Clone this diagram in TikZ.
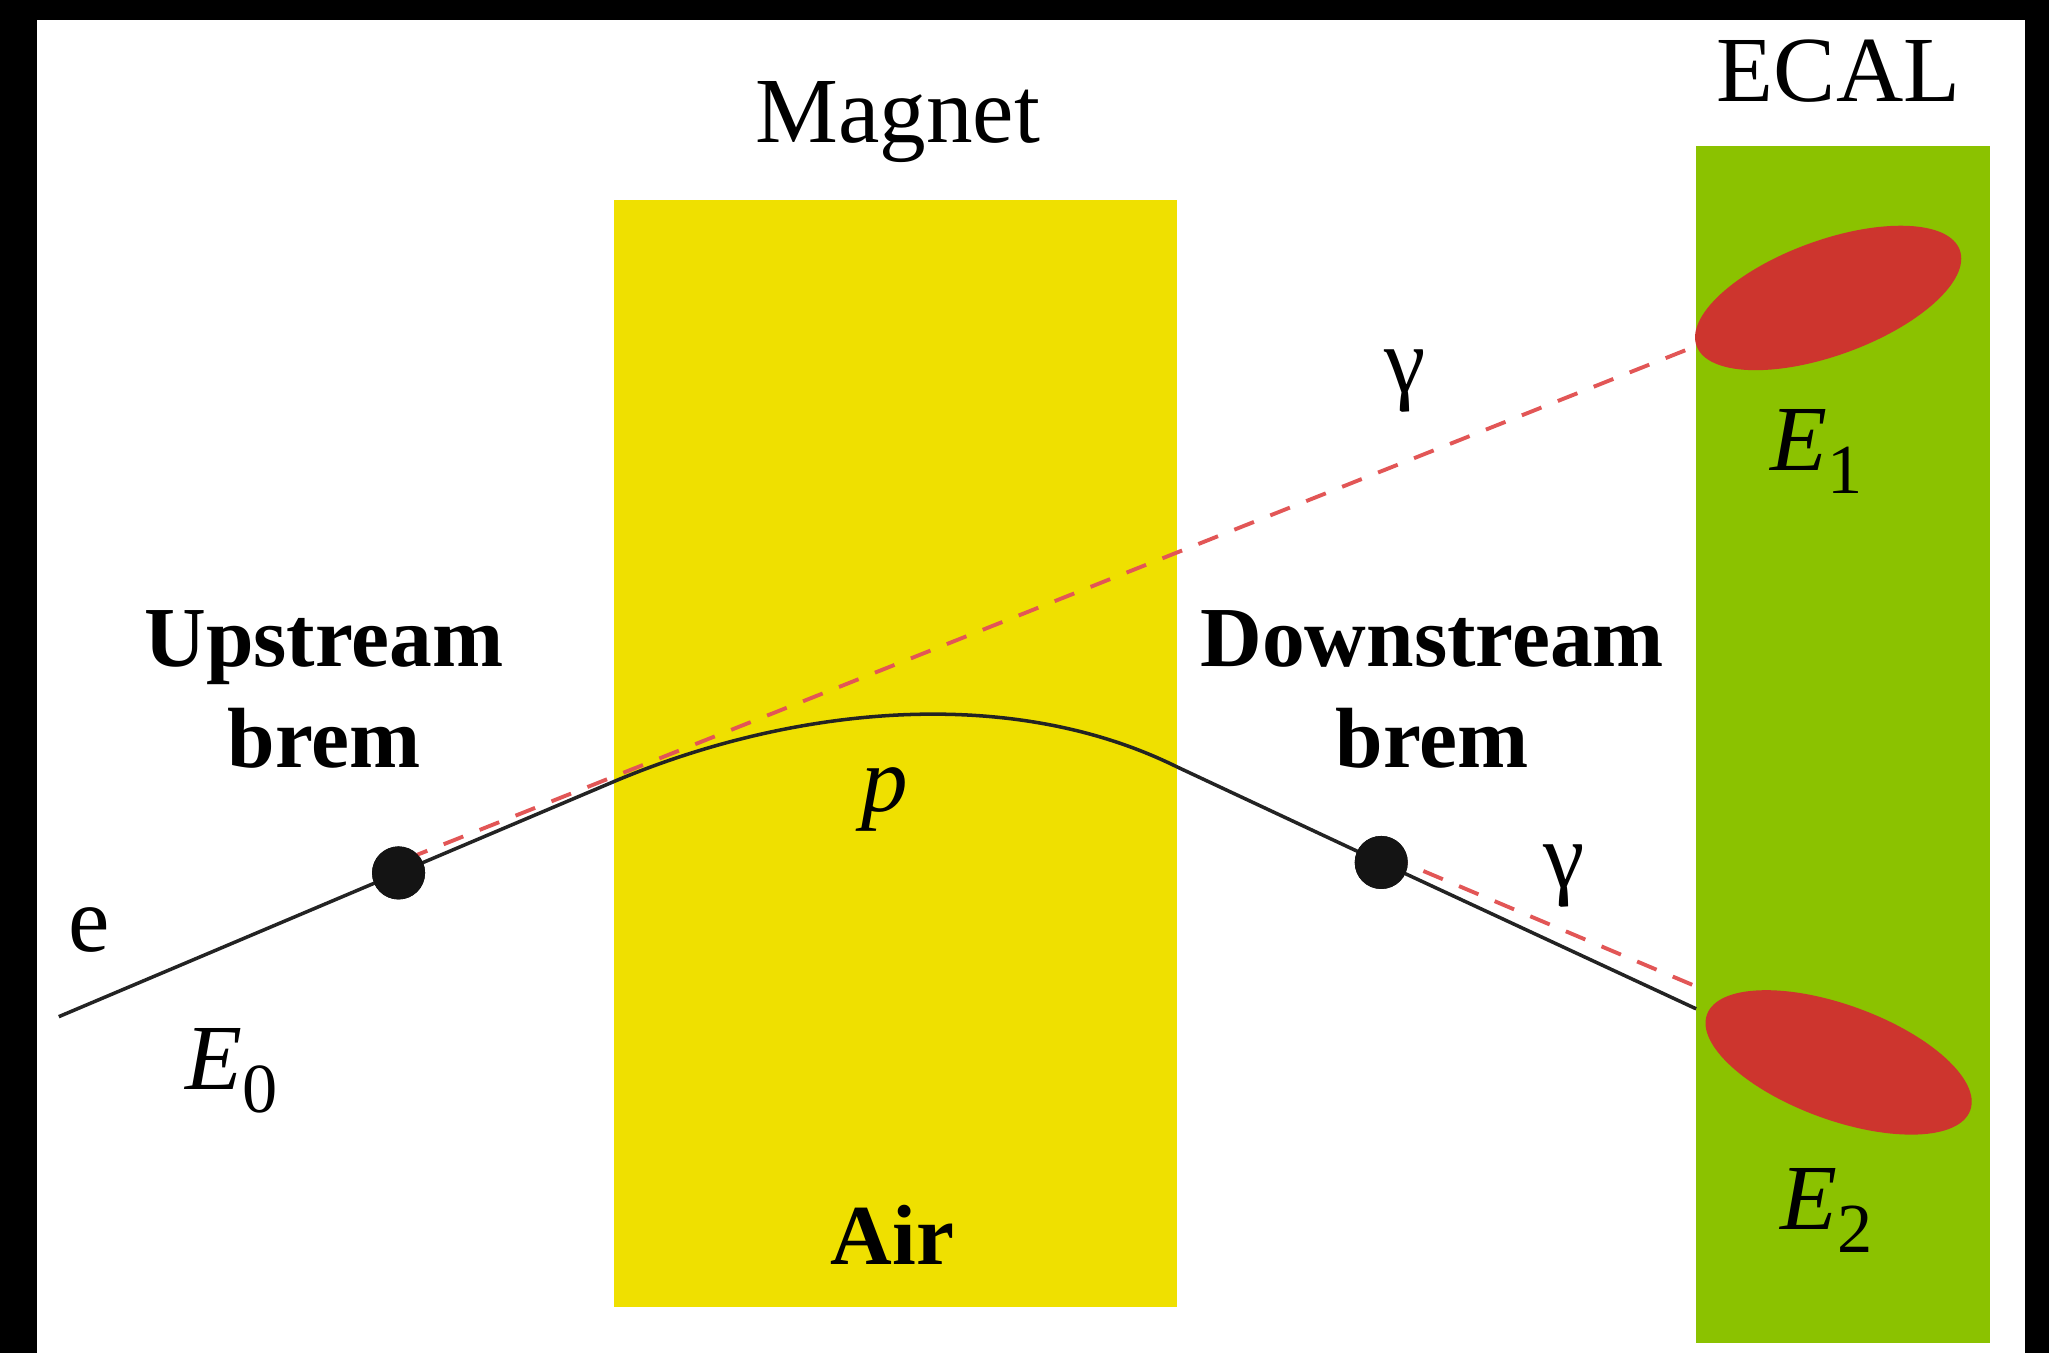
\documentclass[tikz,border=0pt]{standalone}
\usepackage{fontspec}
\setmainfont{Liberation Serif}
\usetikzlibrary{shapes.geometric}
\definecolor{magnetY}{RGB}{239,224,0}
\definecolor{ecalG}{RGB}{139,194,0}
\definecolor{showerR}{RGB}{205,53,46}
\definecolor{gammaR}{RGB}{226,86,86}
\definecolor{trackK}{RGB}{35,35,35}
\begin{document}
\begin{tikzpicture}[x=0.013068cm,y=-0.013068cm,
  lbl/.style={inner sep=0pt,font=\fontsize{26.5}{30}\selectfont},
  boldlbl/.style={inner sep=0pt,align=center,font=\fontsize{24.3}{28.5}\selectfont\bfseries},
  track/.style={trackK,line width=1pt},
  photon/.style={gammaR,line width=1.1pt,dash pattern=on 6pt off 5pt},
  vtx/.style={circle,fill=black!92,inner sep=0pt,minimum size=0.53cm},
  shower/.style={ellipse,fill=showerR,inner sep=0pt,minimum width=2.8cm,minimum height=1.15cm}]
\useasboundingbox (0,0) rectangle (1568,1035);
\fill[white] (0,0) rectangle (1568,1035);
% screenshot frame
\fill[black] (0,0) rectangle (28,1035);
\fill[black] (0,0) rectangle (1568,15);
\fill[black] (1550,0) rectangle (1568,1035);
% magnet and calorimeter
\fill[magnetY] (470,153) rectangle (901,1000);
\fill[ecalG] (1298,112) rectangle (1523,1028);
\node[shower,rotate=20] (sh1) at (1399,228) {};
\node[shower,rotate=-20] (sh2) at (1407,813) {};
% track
\coordinate (start) at (45,778);
\coordinate (m1) at (470,598);
\coordinate (m2) at (901,587);
\coordinate (tend) at (1298,772);
\node[vtx] (d1) at (305,668) {};
\node[vtx] (d2) at (1057,660) {};
\draw[track] (start) -- (d1.center) -- (m1)
  .. controls (605,541) and (772,523) .. (m2) -- (d2.center) -- (tend);
% photons
\coordinate (g1s) at (312,657);
\coordinate (g2s) at (1062,655);
\coordinate (g2e) at (1303,757);
\draw[photon] (g1s) -- (sh1.west);
\draw[photon] (g2s) -- (g2e);
\node[vtx] at (d1) {};
\node[vtx] at (d2) {};
% labels
\node[lbl,anchor=base] (magnet) at (687,109) {Magnet};
\node[lbl,anchor=base] (ecal) at (1407,78) {ECAL};
\node[boldlbl,anchor=base] (up) at (248,587) {Upstream\\brem};
\node[boldlbl,anchor=base] (down) at (1096,587) {Downstream\\brem};
\node[boldlbl,anchor=base] (air) at (683,968) {Air};
\node[lbl,anchor=base] (p) at (677,621) {\itshape p};
\node[lbl,anchor=base] (e) at (68,728) {e};
\node[lbl,anchor=base] (E0) at (177,834) {\itshape E\upshape\raisebox{-6.5pt}{\fontsize{20}{20}\selectfont 0}};
\node[lbl,anchor=base] (E1) at (1390,360) {\itshape E\upshape\raisebox{-6.5pt}{\fontsize{20}{20}\selectfont 1}};
\node[lbl,anchor=base] (E2) at (1398,941) {\itshape E\upshape\raisebox{-6.5pt}{\fontsize{20}{20}\selectfont 2}};
\node[lbl,anchor=base] (g1) at (1075,300) {γ};
\node[lbl,anchor=base] (g2) at (1197,679) {γ};
\end{tikzpicture}
\end{document}
